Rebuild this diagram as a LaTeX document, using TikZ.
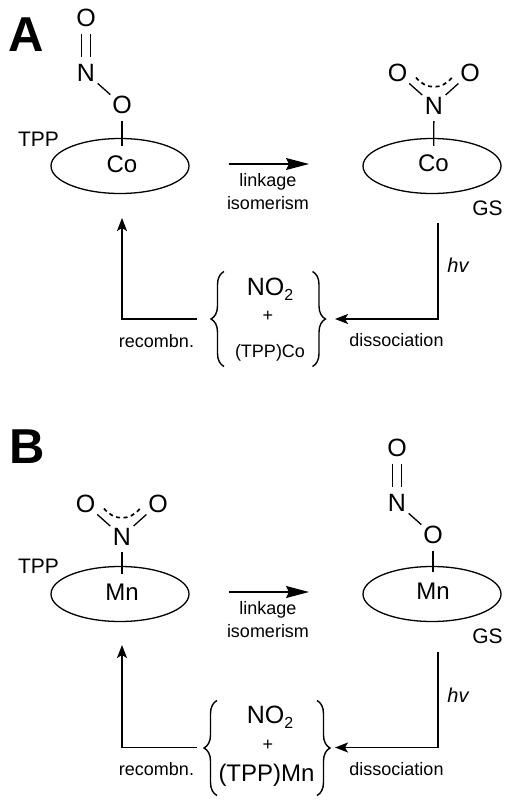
\documentclass[tikz,border=0pt]{standalone}
\usepackage{fontspec}
\setmainfont{Liberation Sans}
\usetikzlibrary{arrows.meta,calc,shapes.geometric,decorations.pathreplacing}
\newcommand{\fs}[1]{\fontsize{#1}{#1}\selectfont}
\newcommand{\subtwo}{\raisebox{-5pt}{\fs{16}2}}
\tikzset{
  x=1pt,y=-1pt,
  atom/.style={circle,inner sep=0pt,minimum size=31pt,font=\fs{25}},
  metal/.style={atom,font=\fs{24}},
  ring/.style={ellipse,draw,line width=1.3pt,minimum width=138pt,minimum height=55pt,inner sep=0pt},
  bond/.style={line width=1.3pt},
  resbond/.style={line width=1.7pt,dash pattern=on 4pt off 3.5pt},
  lab/.style={inner sep=0pt,font=\fs{18}},
  tag/.style={inner sep=0pt,font=\fs{21}},
  panel/.style={inner sep=0pt,font=\fs{49}\bfseries},
  flow/.style={line width=1.6pt,-{Stealth[length=13pt,width=10pt,inset=3pt]}},
  bigflow/.style={line width=1.5pt,-{Stealth[length=23pt,width=12pt,inset=3pt]}},
  cbrace/.style={line width=1.4pt,decorate,decoration={brace,amplitude=13pt}},
}
% #1 prefix, #2 x, #3 y of upper O
\newcommand{\nitrito}[3]{%
  \node[atom] (#1ot) at (#2,#3) {O};
  \node[atom] (#1n) at (#2,#3+55) {N};
  \node[atom] (#1o) at (#2+36,#3+87) {O};
  \draw[bond] ([xshift=-4.8pt]#1ot.south) -- ([xshift=-4.8pt]#1n.north);
  \draw[bond] ([xshift=4.8pt]#1ot.south) -- ([xshift=4.8pt]#1n.north);
  \draw[bond] (#1n) -- (#1o);
}
% #1 prefix, #2 x of N, #3 y of N
\newcommand{\nitro}[3]{%
  \node[atom] (#1n) at (#2,#3) {N};
  \node[atom] (#1ol) at (#2-36.5,#3-32.5) {O};
  \node[atom] (#1or) at (#2+36,#3-32.5) {O};
  \draw[bond] (#1n) -- (#1ol);
  \draw[bond] (#1n) -- (#1or);
  \draw[resbond] ($(#1n)+(-18,-28)$) .. controls ($(#1n)+(-8,-15.5)$) and ($(#1n)+(8,-15.5)$) .. ($(#1n)+(18,-28)$);
}
\begin{document}
\begin{tikzpicture}
\useasboundingbox (0,0) rectangle (512,806);
\fill[white] (0,0) rectangle (512,806);
% ---------- panel A ----------
\node[panel,anchor=center] (pa) at (26.5,35) {A};
\nitrito{a}{86}{18}
\node[ring] (ra) at (120,166) {};
\node[metal] (ma) at (122,164) {Co};
\draw[bond] (ao) -- (ma);
\node[tag] (ta) at (38.5,139) {TPP};
\nitro{b}{434}{105.5}
\node[ring] (rb) at (432,166) {};
\node[metal] (mb) at (433.5,163.5) {Co};
\draw[bond] (bn) -- (mb);
\node[tag] (ga) at (487.5,208) {GS};
\coordinate (l1s) at (228.5,164);
\coordinate (l1e) at (309,164);
\draw[bigflow] (l1s) -- (l1e);
\node[lab] (li1) at (268,182) {linkage};
\node[lab] (is1) at (268,203) {isomerism};
\coordinate (h1s) at (438,223);
\coordinate (h1c) at (438,319);
\coordinate (h1e) at (335,319);
\draw[flow] (h1s) -- (h1c) -- (h1e);
\node[lab,font=\fs{20}\itshape] (hv1) at (458,265) {hv};
\node[lab] (di1) at (396.5,340.5) {dissociation};
\coordinate (r1s) at (196.5,319);
\coordinate (r1c) at (122,319);
\coordinate (r1e) at (122,218);
\draw[flow] (r1s) -- (r1c) -- (r1e);
\node[lab] (re1) at (156.5,341) {recombn.};
\coordinate (b1a) at (224,366.5);
\coordinate (b1b) at (224,271.5);
\coordinate (b1c) at (312.5,271.5);
\coordinate (b1d) at (312.5,366.5);
\draw[cbrace] (b1a) -- (b1b);
\draw[cbrace] (b1c) -- (b1d);
\node[inner sep=0pt,font=\fs{25},anchor=base] (no1) at (270,295) {NO\subtwo};
\node[lab] (pl1) at (268,316) {+};
\node[lab] (tp1) at (270,353) {(TPP)Co};
% ---------- panel B ----------
\node[panel,anchor=center] (pb) at (27,447) {B};
\nitro{c}{122}{536.5}
\node[ring] (rc) at (120,594) {};
\node[metal] (mc) at (122,592.5) {Mn};
\draw[bond] (cn) -- (mc);
\node[tag] (tb) at (38.5,566.5) {TPP};
\nitrito{d}{397}{448}
\node[ring] (rd) at (432,594) {};
\node[metal] (md) at (433,591) {Mn};
\draw[bond] (do) -- (md);
\node[tag] (gb) at (487.5,636) {GS};
\coordinate (l2s) at (228.5,592);
\coordinate (l2e) at (309,592);
\draw[bigflow] (l2s) -- (l2e);
\node[lab] (li2) at (268,610) {linkage};
\node[lab] (is2) at (268,631) {isomerism};
\coordinate (h2s) at (438,652);
\coordinate (h2c) at (438,747.5);
\coordinate (h2e) at (335,747.5);
\draw[flow] (h2s) -- (h2c) -- (h2e);
\node[lab,font=\fs{20}\itshape] (hv2) at (458,695) {hv};
\node[lab] (di2) at (396.5,769) {dissociation};
\coordinate (r2s) at (196.5,747.5);
\coordinate (r2c) at (122,747.5);
\coordinate (r2e) at (122,645);
\draw[flow] (r2s) -- (r2c) -- (r2e);
\node[lab] (re2) at (156.5,769.5) {recombn.};
\coordinate (b2a) at (217,795.5);
\coordinate (b2b) at (217,700.5);
\coordinate (b2c) at (317,700.5);
\coordinate (b2d) at (317,795.5);
\draw[cbrace] (b2a) -- (b2b);
\draw[cbrace] (b2c) -- (b2d);
\node[inner sep=0pt,font=\fs{25},anchor=base] (no2) at (270,723.5) {NO\subtwo};
\node[lab] (pl2) at (268,745) {+};
\node[inner sep=0pt,font=\fs{24}] (tp2) at (266.5,775) {(TPP)Mn};
\end{tikzpicture}
\end{document}
